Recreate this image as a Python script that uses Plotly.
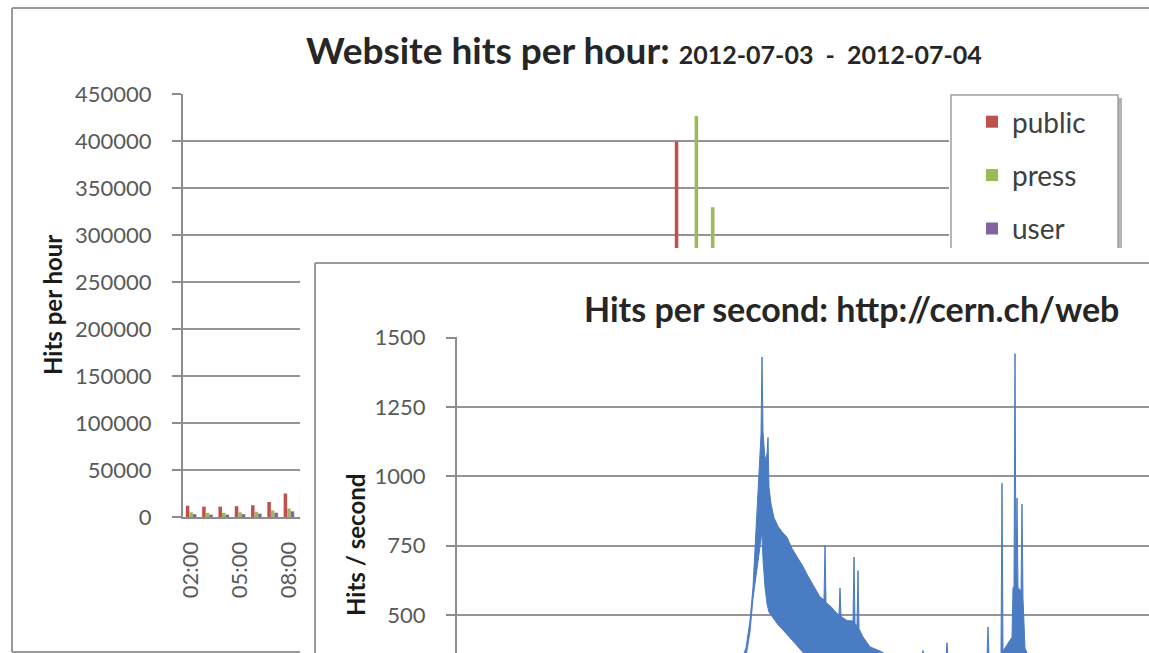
import plotly.graph_objects as go
import pandas as pd

W, H = 1149, 653
OX, OY = 0, 0   # page offset of the figure (body margin removed below)


def px(x):
    return (x - OX) / W


def py(y):
    return 1 - (y - OY) / H


# ---------------- Chart 1: website hits per hour ----------------
hours = pd.date_range("2012-07-03 02:00", "2012-07-05 00:00", freq="h")

public = [12000, 11000, 11000, 11500, 12500, 16000, 25000, 29000, 31000, 32000,
          30000, 31000, 33000, 34000, 33000, 31000, 28000, 26000, 25000, 24000,
          22000, 20000,
          19000, 17000, 15000, 14000, 15000, 18000, 30000, 90000, 400000, 250000,
          180000, 140000, 120000, 110000, 100000, 95000, 90000, 85000, 80000,
          75000, 70000, 65000, 60000, 55000,
          50000]
press = [5000, 4500, 4500, 5000, 5500, 7000, 9000, 10000, 11000, 11000,
         10000, 10000, 11000, 11000, 10000, 9000, 8000, 7000, 7000, 6000,
         6000, 5000,
         5000, 4500, 4000, 4000, 4500, 6000, 12000, 60000, 150000, 427000,
         330000, 200000, 150000, 120000, 100000, 90000, 80000, 70000, 60000,
         55000, 50000, 45000, 40000, 35000,
         30000]
user = [3000, 2500, 2500, 3000, 3500, 4500, 6000, 7000, 8000, 8000,
        7500, 7500, 8000, 8000, 7500, 7000, 6000, 5000, 5000, 4500,
        4000, 3500,
        3500, 3000, 3000, 3000, 3500, 4500, 9000, 30000, 60000, 70000,
        50000, 30000, 20000, 15000, 12000, 11000, 10000, 9000, 8000,
        7000, 6500, 6000, 5500, 5000,
        4500]

series_names = ["public", "press", "user"]
series_colors = ["#c0504d", "#9bbb59", "#8064a2"]

# ---------------- Chart 2: hits per second ----------------
hps_time = ["06:27:30", "06:59:00", "07:39:00", "08:19:00", "08:44:00", "08:50:00",
            "08:52:00", "08:54:00", "08:55:30", "08:57:00", "08:58:30", "08:59:30",
            "09:00:00", "09:00:30", "09:01:30", "09:02:30", "09:03:00", "09:03:30",
            "09:04:30", "09:06:00", "09:08:00", "09:10:00", "09:12:30", "09:15:00",
            "09:17:30", "09:20:30", "09:23:00", "09:26:00", "09:29:00", "09:31:00",
            "09:31:30", "09:32:00", "09:34:30", "09:37:30", "09:38:30", "09:39:00",
            "09:39:30", "09:42:30", "09:45:30", "09:46:00", "09:46:30", "09:47:30",
            "09:48:00", "09:48:30", "09:50:30", "09:54:00", "09:59:00", "10:04:00",
            "10:11:30", "10:20:00", "10:20:30", "10:21:00", "10:32:00", "10:32:30",
            "10:33:00", "10:44:00", "10:52:30", "10:53:00", "10:53:30", "10:59:30",
            "11:00:00", "11:00:30", "11:05:00", "11:05:30", "11:06:00", "11:06:30",
            "11:07:00", "11:07:30", "11:08:00", "11:09:00", "11:09:30", "11:10:00",
            "11:10:30", "11:11:30", "11:14:00", "11:39:00", "12:13:30"]
hps_max = [240, 250, 270, 300, 330, 345,
           380, 480, 600, 820, 1050, 1150,
           1430, 1160, 1060, 1080, 1140, 960,
           900, 850, 820, 800, 780, 740,
           710, 675, 640, 600, 565, 555,
           750, 545, 530, 505, 500, 597,
           495, 480, 478, 709, 470, 460,
           660, 450, 421, 385, 370, 350,
           355, 350, 372, 345, 350, 400,
           350, 345, 350, 457, 350, 360,
           975, 370, 420, 600, 600, 1442,
           610, 922, 600, 590, 580, 900,
           560, 380, 340, 320, 300]
hps_min = [170, 180, 190, 210, 230, 260,
           350, 440, 560, 640, 700, 760,
           800, 700, 600, 540, 520, 510,
           500, 485, 465, 450, 430, 410,
           390, 365, 345, 330, 320, 315,
           315, 312, 305, 300, 299, 298,
           298, 292, 290, 290, 290, 288,
           288, 286, 284, 280, 275, 270,
           265, 260, 260, 260, 255, 255,
           255, 250, 250, 250, 250, 255,
           260, 260, 280, 300, 310, 320,
           320, 310, 300, 290, 285, 280,
           270, 260, 250, 240, 230]
hps_x = ["2012-07-04 " + t for t in hps_time]

chart1_title = "Website hits per hour:"
chart1_dates = "2012-07-03\u00a0\u00a0-\u00a0\u00a02012-07-04"
chart2_title = "Hits per second: http://cern.ch/web"

GRID = "#959595"
AXIS = "#8c8c8c"
FRAME = "#9a9a9a"
TICKFONT = dict(family="Lato", size=22, color="#595959")
BLUE = "#4a7cc3"

fig = go.Figure()

for name, vals, col in zip(series_names, [public, press, user], series_colors):
    fig.add_trace(go.Bar(x=hours, y=vals, name=name, legendgroup=name,
                         marker=dict(color=col, line=dict(width=0)),
                         xaxis="x", yaxis="y"))

# empty trace defining the white panel of the overlaid second chart
fig.add_trace(go.Scatter(x=[], y=[], xaxis="x2", yaxis="y2",
                         showlegend=False, hoverinfo="skip"))

fig.add_trace(go.Scatter(x=hps_x, y=hps_min, mode="lines", xaxis="x3", yaxis="y3",
                         line=dict(color=BLUE, width=1), showlegend=False))
fig.add_trace(go.Scatter(x=hps_x, y=hps_max, mode="lines", xaxis="x3", yaxis="y3",
                         line=dict(color=BLUE, width=1), fill="tonexty",
                         fillcolor=BLUE, showlegend=False))

fig.update_layout(
    width=W, height=H,
    margin=dict(l=0, r=0, t=0, b=0, pad=0, autoexpand=False),
    paper_bgcolor="white", plot_bgcolor="white",
    barmode="group", bargap=0.35, bargroupgap=0,
    hovermode=False,
    showlegend=True,
    legend=dict(x=px(972), y=py(97), xanchor="left", yanchor="top",
                bgcolor="rgba(0,0,0,0)", borderwidth=0,
                font=dict(family="Lato", size=28, color="#404040"),
                tracegroupgap=14, itemclick=False, itemdoubleclick=False),
    xaxis=dict(domain=[px(183), px(949)], type="date", anchor="y",
               range=["2012-07-03 01:30", "2012-07-05 00:30"],
               tickvals=list(hours[::3]), tickformat="%H:%M", tickangle=-90,
               showgrid=False, zeroline=False, showline=True, linecolor=AXIS,
               linewidth=2, ticks="", tickfont=TICKFONT, ticklabelstandoff=14,
               automargin=False),
    yaxis=dict(domain=[py(517), py(94)], range=[0, 450500], anchor="x",
               tickvals=list(range(0, 450001, 50000)), tickformat="d",
               showgrid=True, gridcolor=GRID, gridwidth=2, zeroline=False,
               showline=True, linecolor=AXIS, linewidth=2, ticks="outside",
               ticklen=9, tickcolor=AXIS, tickwidth=2, tickfont=TICKFONT,
               ticklabelstandoff=16, automargin=False),
    xaxis2=dict(domain=[px(300), 1], range=[0, 1], visible=False, anchor="y2",
                automargin=False),
    yaxis2=dict(domain=[0, py(248)], range=[0, 1], visible=False, anchor="x2",
                automargin=False),
    xaxis3=dict(domain=[px(457), 1], type="date", anchor="y3",
                range=["2012-07-04 06:27:30", "2012-07-04 12:13:30"],
                showgrid=False, zeroline=False, showline=False,
                showticklabels=False, ticks="", automargin=False),
    yaxis3=dict(domain=[0, py(337)], range=[363, 1502], anchor="x3",
                tickvals=[500, 750, 1000, 1250, 1500],
                showgrid=True, gridcolor=GRID, gridwidth=2, zeroline=False,
                showline=True, linecolor=AXIS, linewidth=2, ticks="outside",
                ticklen=9, tickcolor=AXIS, tickwidth=2, tickfont=TICKFONT,
                ticklabelstandoff=16, automargin=False),
)


def edge(x0, y0, x1, y1, layer):
    return dict(type="line", xref="paper", yref="paper", x0=px(x0), y0=py(y0),
                x1=px(x1), y1=py(y1), line=dict(color=FRAME, width=2), layer=layer)


shapes = [
    # outer frame of chart 1 (top, left, bottom edges)
    edge(12, 8, 1149, 8, "below"),
    edge(12, 8, 12, 652, "below"),
    edge(12, 652, 1149, 652, "below"),
    # legend shadow + box of chart 1
    dict(type="rect", xref="paper", yref="paper", x0=px(954), x1=px(1122),
         y0=py(330), y1=py(98), line=dict(width=0), fillcolor="#b4b4b4",
         layer="below"),
    dict(type="rect", xref="paper", yref="paper", x0=px(951), x1=px(1118),
         y0=py(330), y1=py(95), line=dict(color="#a0a0a0", width=1.5),
         fillcolor="white", layer="below"),
    # frame of chart 2 (top, left edges)
    edge(315, 263, 1149, 263, "above"),
    edge(315, 263, 315, 653, "above"),
]
fig.update_layout(shapes=shapes)

annotations = [
    dict(text="<b>" + chart1_title + " <span style='font-size:25px'>" + chart1_dates
         + "</span></b>", x=px(644), y=py(50), xref="paper", yref="paper",
         xanchor="center", yanchor="middle", showarrow=False,
         font=dict(family="Lato", size=37, color="#262626")),
    dict(text="<b>Hits per hour</b>", x=px(52), y=py(305), xref="paper", yref="paper",
         xanchor="center", yanchor="middle", textangle=-90, showarrow=False,
         font=dict(family="Lato", size=24, color="#1a1a1a")),
    dict(text="<b>" + chart2_title + "</b>", x=px(582), y=py(308), xref="paper",
         yref="paper", xanchor="left", yanchor="middle", showarrow=False,
         font=dict(family="Lato", size=34, color="#262626")),
    dict(text="<b>Hits / second</b>", x=px(355), y=py(545), xref="paper", yref="paper",
         xanchor="center", yanchor="middle", textangle=-90, showarrow=False,
         font=dict(family="Lato", size=24, color="#1a1a1a")),
]
fig.update_layout(annotations=annotations)

fig.write_html("out.html",
               config={"displayModeBar": False, "staticPlot": True},
               post_script="document.body.style.margin='0';"
                           "document.body.style.overflow='hidden';")
